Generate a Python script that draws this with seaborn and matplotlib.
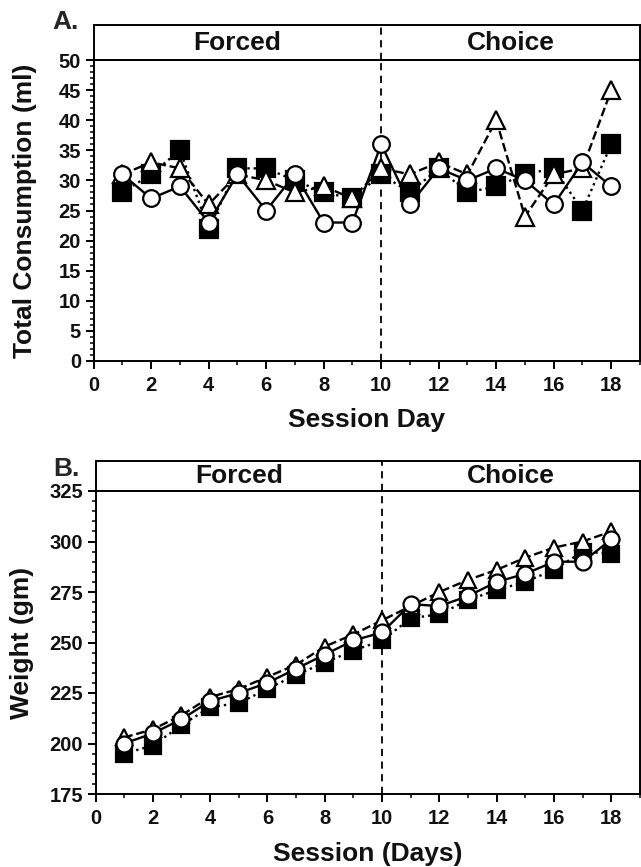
import numpy as np
import pandas as pd
import matplotlib.pyplot as plt
from matplotlib.ticker import MultipleLocator
import seaborn as sns

days = list(range(1, 19))

# Panel A - total consumption (ml)
cons_square = [28, 31, 35, 22, 32, 32, 30, 28, 27, 31, 28, 32, 28, 29, 31, 32, 25, 36]
cons_triangle = [31, 33, 32, 26, 31, 30, 28, 29, 27, 32, 31, 33, 31, 40, 24, 31, 32, 45]
cons_circle = [31, 27, 29, 23, 31, 25, 31, 23, 23, 36, 26, 32, 30, 32, 30, 26, 33, 29]

# Panel B - body weight (gm)
wt_square = [195, 199, 209, 218, 220, 227, 234, 240, 246, 251, 262, 264, 271, 276, 280, 286, 295, 294]
wt_triangle = [203, 207, 214, 223, 227, 233, 239, 248, 254, 261, 268, 275, 281, 286, 292, 297, 300, 305]
wt_circle = [200, 205, 212, 221, 225, 230, 237, 244, 251, 255, 269, 268, 273, 280, 284, 290, 290, 301]

phase_names = ["Forced", "Choice"]
phase_centers = [5, 14.5]

sns.set_style("ticks")
plt.rcParams["font.family"] = ["Liberation Sans", "DejaVu Sans"]
plt.rcParams["font.weight"] = "bold"
plt.rcParams["axes.labelweight"] = "bold"

# group -> (marker, linestyle, facecolor, zorder)
STYLES = {
    "square": ("s", ":", "black", 3),
    "triangle": ("^", "--", "white", 4),
    "circle": ("o", "-", "white", 5),
}


def long_df(square, triangle, circle):
    frames = []
    for name, vals in (("square", square), ("triangle", triangle), ("circle", circle)):
        frames.append(pd.DataFrame({"day": days, "value": vals, "group": name}))
    return pd.concat(frames, ignore_index=True)


def draw_panel(ax, band, df, msizes):
    for name, (mk, ls, fc, z) in STYLES.items():
        sub = df[df["group"] == name]
        sns.lineplot(data=sub, x="day", y="value", ax=ax, errorbar=None, sort=False,
                     color="black", linestyle=ls, linewidth=1.7, marker=mk,
                     markersize=msizes[name], markerfacecolor=fc,
                     markeredgecolor="black", markeredgewidth=1.6, zorder=z)
    ax.set_xlim(0, 19)
    ax.xaxis.set_major_locator(MultipleLocator(2))
    ax.xaxis.set_minor_locator(MultipleLocator(1))
    ax.axvline(10, color="black", lw=1.3, ls=(0, (4, 3)), zorder=2)
    for sp in ax.spines.values():
        sp.set_visible(True)
        sp.set_linewidth(1.4)
        sp.set_color("black")
    ax.tick_params(which="major", direction="out", length=6, width=1.4,
                   labelsize=14.5, pad=3, color="black", labelcolor="#111111")
    ax.tick_params(which="minor", direction="out", length=3, width=1.1, color="black")
    ax.tick_params(axis="x", which="major", pad=5)
    for lab in ax.get_xticklabels() + ax.get_yticklabels():
        lab.set_fontweight("bold")

    band.set_xlim(0, 19)
    band.set_ylim(0, 1)
    band.set_xticks([])
    band.set_yticks([])
    for sp in band.spines.values():
        sp.set_visible(True)
        sp.set_linewidth(1.4)
        sp.set_color("black")
    band.axvline(10, color="black", lw=1.3, ls=(0, (4, 3)))
    for name, xc in zip(phase_names, phase_centers):
        band.text(xc, 0.5, name, ha="center", va="center", fontsize=19,
                  fontweight="bold", color="#111111")


fig = plt.figure(figsize=(6.41, 8.67), dpi=100)
W, H = 641.0, 867.0

# Panel A
axA = fig.add_axes([93.6 / W, 1 - 361 / H, (640 - 93.6) / W, 301 / H])
bandA = fig.add_axes([93.6 / W, 1 - 60 / H, (640 - 93.6) / W, 35 / H])
draw_panel(axA, bandA, long_df(cons_square, cons_triangle, cons_circle),
           {"square": 13, "triangle": 12.5, "circle": 12})
axA.set_ylim(0, 50)
axA.yaxis.set_major_locator(MultipleLocator(5))
axA.yaxis.set_minor_locator(MultipleLocator(1))
axA.set_xlabel("Session Day", fontsize=19, fontweight="bold", color="#111111")
axA.set_ylabel("Total Consumption (ml)", fontsize=19, fontweight="bold", color="#111111")
axA.xaxis.set_label_coords(0.5, -0.155)
axA.yaxis.set_label_coords(-0.104, 0.5)

# Panel B
axB = fig.add_axes([95.5 / W, 1 - 794 / H, (640 - 95.5) / W, 303 / H])
bandB = fig.add_axes([95.5 / W, 1 - 491 / H, (640 - 95.5) / W, 30 / H])
draw_panel(axB, bandB, long_df(wt_square, wt_triangle, wt_circle),
           {"square": 12, "triangle": 11.5, "circle": 11.5})
axB.set_ylim(175, 325)
axB.yaxis.set_major_locator(MultipleLocator(25))
axB.yaxis.set_minor_locator(MultipleLocator(5))
axB.set_xlabel("Session (Days)", fontsize=19, fontweight="bold", color="#111111")
axB.set_ylabel("Weight (gm)", fontsize=19, fontweight="bold", color="#111111")
axB.xaxis.set_label_coords(0.5, -0.16)
axB.yaxis.set_label_coords(-0.113, 0.5)

fig.text(52 / W, 1 - 22 / H, "A.", fontsize=19, fontweight="bold", ha="left", va="center")
fig.text(53 / W, 1 - 469 / H, "B.", fontsize=19, fontweight="bold", ha="left", va="center")

fig.savefig("out.png", dpi=100)
